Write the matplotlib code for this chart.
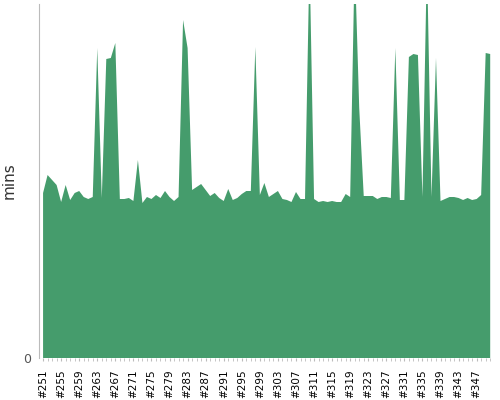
import numpy as np
import matplotlib.pyplot as plt

builds = list(range(251, 351))
mins = [16.5, 18.3, 17.8, 17.3, 15.6, 17.3, 15.8, 16.5, 16.7, 16.1,
        15.9, 16.1, 31.0, 16.0, 29.9, 30.0, 31.5, 15.9, 15.9, 16.0,
        15.7, 19.8, 15.5, 16.1, 15.9, 16.3, 16.0, 16.7, 16.1, 15.7,
        16.1, 33.8, 31.0, 16.8, 17.1, 17.4, 16.8, 16.2, 16.5, 16.0,
        15.7, 16.9, 15.8, 16.0, 16.4, 16.7, 16.7, 31.1, 16.3, 17.5,
        16.1, 16.4, 16.7, 15.9, 15.8, 15.6, 16.6, 15.9, 15.9, 40.0,
        15.9, 15.6, 15.7, 15.6, 15.7, 15.6, 15.6, 16.4, 16.1, 40.0,
        25.0, 16.2, 16.2, 16.2, 15.9, 16.1, 16.1, 16.0, 31.0, 15.8,
        15.8, 30.1, 30.4, 30.3, 16.1, 40.0, 16.1, 30.0, 15.7, 15.9,
        16.1, 16.1, 16.0, 15.8, 16.0, 15.8, 15.9, 16.3, 30.5, 30.4]

fig = plt.figure(figsize=(5, 4), dpi=100)
ax = fig.add_axes([0.39 / 5 * 1.0 * 1, 0.105, 0.906, 0.885])
ax.set_position([39 / 500, (400 - 358) / 400, (492 - 39) / 500, (358 - 4) / 400])

x = np.arange(len(builds))
ax.fill_between(x, mins, 0, color="#459c6c", linewidth=0)
ax.set_xlim(-0.9, 99.4)
ax.set_ylim(0, 35.4)

ax.set_yticks([0])
ax.set_yticklabels(["0"], color="#555555", fontsize=9)
ax.tick_params(axis="y", length=0, pad=6)
ax.set_ylabel("mins", fontsize=11, color="#333333")

ax.set_xticks(x[::4])
ax.set_xticklabels([f"#{b}" for b in builds[::4]], rotation=90, fontsize=7.5)
ax.set_xticks(x, minor=True)
ax.tick_params(axis="x", which="both", length=2, color="#bbbbbb", pad=6)

for s in ["top", "right", "bottom"]:
    ax.spines[s].set_visible(False)
ax.spines["left"].set_color("#bbbbbb")

fig.savefig("out.png")
